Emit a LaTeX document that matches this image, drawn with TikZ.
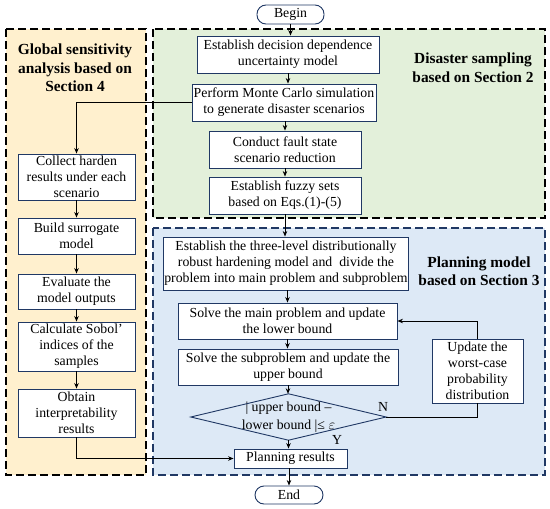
\documentclass[tikz,border=0pt]{standalone}
\usepackage{fontspec}
\setmainfont{Liberation Serif}
\usetikzlibrary{arrows.meta}
\definecolor{navy}{HTML}{203864}
\definecolor{pyellow}{HTML}{FFF0CE}
\definecolor{pgreen}{HTML}{E3F0DA}
\definecolor{pblue}{HTML}{DDE9F6}
\tikzset{
  box/.style={draw=navy, line width=0.9pt, fill=white, align=center, inner sep=1pt,
    font=\fontsize{13.8}{16}\selectfont},
  term/.style={box, rounded corners=9pt},
  panel/.style={line width=1.6pt, dash pattern=on 8pt off 4pt},
  ttl/.style={align=center, font=\fontsize{15.4}{18.5}\selectfont\bfseries},
  arr/.style={line width=0.9pt, -{Stealth[length=5.5pt,width=4.5pt]}},
  ln/.style={line width=0.9pt},
  lbl/.style={font=\fontsize{13.8}{15}\selectfont, inner sep=0pt}
}
\begin{document}
\begin{tikzpicture}[x=1pt,y=-1pt]
\useasboundingbox (0,0) rectangle (550,509);
% panels
\fill[pyellow] (6,29) rectangle (146,475);
\fill[pgreen] (153,29) rectangle (545,218);
\fill[pblue] (153,228) rectangle (545,475);
\draw[panel, draw=black] (6,29) rectangle (146,475);
\draw[panel, draw=black] (153,29) rectangle (545,218);
\draw[panel, draw=navy] (153,228) rectangle (545,475);
% titles
\node[ttl] (t1) at (75,68) {Global sensitivity\\analysis based on\\Section 4};
\node[ttl] (t2) at (473,67.5) {Disaster sampling\\based on Section 2};
\node[ttl] (t3) at (479,271) {Planning model\\based on Section 3};
% main column
\node[term, minimum width=67pt, minimum height=19pt] (begin) at (290.5,14.5) {Begin};
\node[box, minimum width=182pt, minimum height=37pt] (e1) at (288,54.5) {Establish decision dependence\\uncertainty model};
\node[box, minimum width=184pt, minimum height=37pt] (e2) at (284,102.5) {Perform Monte Carlo simulation\\to generate disaster scenarios};
\node[box, minimum width=152pt, minimum height=37pt] (e3) at (285,149.5) {Conduct fault state\\scenario reduction};
\node[box, minimum width=152pt, minimum height=37pt] (e4) at (285,195.5) {Establish fuzzy sets\\based on Eqs.(1)-(5)};
\node[box, minimum width=242pt, minimum height=53pt] (b1) at (286,263.5) {Establish the three-level distributionally\\robust hardening model and\ \ divide the\\problem into main problem and subproblem};
\node[box, minimum width=219pt, minimum height=36pt] (b2) at (287.5,321) {Solve the main problem and update\\the lower bound};
\node[box, minimum width=220pt, minimum height=36pt] (b3) at (288,367) {Solve the subproblem and update the\\upper bound};
\node[minimum width=195pt, minimum height=46pt, inner sep=0pt, align=center,
  font=\fontsize{13.8}{18}\selectfont] (dia) at (288.5,417) {| upper bound –\\lower bound |≤ $\varepsilon$};
\draw[draw=navy, line width=0.9pt] (dia.west) -- (dia.north) -- (dia.east) -- (dia.south) -- cycle;
\node[box, minimum width=91pt, minimum height=64pt] (upd) at (477.5,371) {Update the\\worst-case\\probability\\distribution};
\node[box, minimum width=113pt, minimum height=19pt] (plan) at (290.5,458.5) {Planning results};
\node[term, minimum width=68pt, minimum height=18pt] (end) at (289,495) {End};
% left column
\node[box, minimum width=117pt, minimum height=46pt] (l1) at (76.5,177) {Collect harden\\results under each\\scenario};
\node[box, minimum width=117pt, minimum height=36pt] (l2) at (76.5,236) {Build surrogate\\model};
\node[box, minimum width=117pt, minimum height=35pt] (l3) at (76.5,291.5) {Evaluate the\\model outputs};
\node[box, minimum width=117pt, minimum height=49pt] (l4) at (76.5,346.5) {Calculate Sobol’\\indices of the\\samples};
\node[box, minimum width=117pt, minimum height=48pt] (l5) at (76.5,413) {Obtain\\interpretability\\results};
% labels
\node[lbl] (n) at (383,407) {N};
\node[lbl] (y) at (337,440) {Y};
% connectors
\draw[arr] (begin.south) -- (begin.south |- e1.north);
\draw[arr] (e1.south) -- (e1.south |- e2.north);
\draw[arr] (e2.south -| e3.north) -- (e3.north);
\draw[arr] (e3.south) -- (e4.north);
\draw[arr] (e4.south) -- (e4.south |- b1.north);
\draw[arr] (b1.south -| b2.north) -- (b2.north);
\draw[arr] (b2.south) -- (b2.south |- b3.north);
\draw[arr] (b3.south) -- (b3.south |- dia.north);
\draw[arr] (dia.south) -- (dia.south |- plan.north);
\draw[arr] (plan.south -| end.north) -- (end.north);
\draw[ln] (dia.east) -| (upd.south);
\draw[arr] (upd.north) |- (b2.east);
\draw[arr] (e2.west) -| (l1.north);
\draw[arr] (l1.south) -- (l2.north);
\draw[arr] (l2.south) -- (l3.north);
\draw[arr] (l3.south) -- (l4.north);
\draw[arr] (l4.south) -- (l5.north);
\draw[arr] (l5.south) |- (plan.west);
\end{tikzpicture}
\end{document}
